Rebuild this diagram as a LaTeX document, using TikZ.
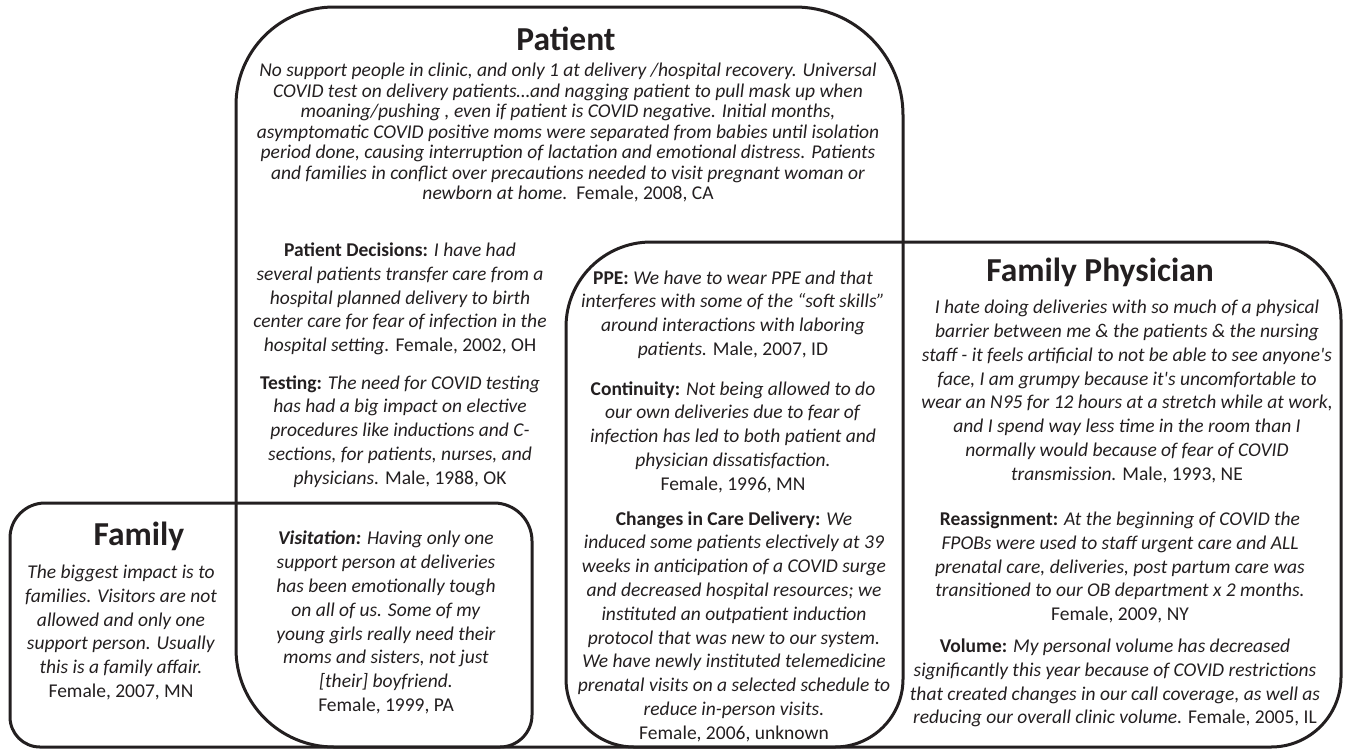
\documentclass[tikz,border=0pt]{standalone}
\usepackage{fontspec}
\setmainfont{Carlito}
\definecolor{ink}{RGB}{35,31,32}
\newcommand{\vennbox}[8]{%
 \draw[boxline] ({#1},{#2+#5}) .. controls ({#1},{#2+0.448*#5}) and ({#1+0.448*#5},{#2}) .. ({#1+#5},{#2})
 -- ({#3-#6},{#2}) .. controls ({#3-0.448*#6},{#2}) and ({#3},{#2+0.448*#6}) .. ({#3},{#2+#6})
 -- ({#3},{#4-#7}) .. controls ({#3},{#4-0.448*#7}) and ({#3-0.448*#7},{#4}) .. ({#3-#7},{#4})
 -- ({#1+#8},{#4}) .. controls ({#1+0.448*#8},{#4}) and ({#1},{#4-0.448*#8}) .. ({#1},{#4-#8}) -- cycle;}
\tikzset{
 boxline/.style={line width=3pt, draw=ink, line join=round},
 ttl/.style={font=\fontsize{33.5}{40}\selectfont\bfseries, text=ink, inner sep=0pt, anchor=base},
 body/.style={font=\fontsize{19.5}{23.8}\selectfont, text=ink, align=center, inner sep=0pt},
 pbody/.style={font=\fontsize{19.5}{20.5}\selectfont, text=ink, align=center, inner sep=0pt},
}
\begin{document}
\begin{tikzpicture}[x=1pt,y=-1pt]
\useasboundingbox (0,0) rectangle (1346,750);
% Patient
\vennbox{236}{7}{903}{747}{98}{108}{68}{98}
% Family
\vennbox{10}{503}{532}{747}{35}{38}{32}{30}
% Family Physician
\vennbox{566}{242}{1341}{747}{85}{78}{70}{68}

\node[ttl] (tpat) at (566,50) {Patient};
\node[ttl] (tfam) at (139,545) {Family};
\node[ttl] (tfp) at (1100,281) {Family Physician};

\node[pbody] (ppara) at (568,132.5) {\textit{No support people in clinic, and only 1 at delivery /hospital recovery. Universal}\\
\textit{COVID test on delivery patients…and nagging patient to pull mask up when}\\
\textit{moaning/pushing , even if patient is COVID negative. Initial months,}\\
\textit{asymptomatic COVID positive moms were separated from babies until isolation}\\
\textit{period done, causing interruption of lactation and emotional distress. Patients}\\
\textit{and families in conflict over precautions needed to visit pregnant woman or}\\
\textit{newborn at home.}\ \ Female, 2008, CA};

\node[body] (pdec) at (400,299) {\textbf{Patient Decisions:} \textit{I have had}\\
\textit{several patients transfer care from a}\\
\textit{hospital planned delivery to birth}\\
\textit{center care for fear of infection in the}\\
\textit{hospital setting.} Female, 2002, OH};

\node[body] (ptest) at (400,431.5) {\textbf{Testing:} \textit{The need for COVID testing}\\
\textit{has had a big impact on elective}\\
\textit{procedures like inductions and C-}\\
\textit{sections, for patients, nurses, and}\\
\textit{physicians.} Male, 1988, OK};

\node[body] (ftext) at (121,632.5) {\textit{The biggest impact is to}\\
\textit{families. Visitors are not}\\
\textit{allowed and only one}\\
\textit{support person. Usually}\\
\textit{this is a family affair.}\\
Female, 2007, MN};

\node[body] (visit) at (386,622.5) {\textbf{\textit{Visitation:}} \textit{Having only one}\\
\textit{support person at deliveries}\\
\textit{has been emotionally tough}\\
\textit{on all of us. Some of my}\\
\textit{young girls really need their}\\
\textit{moms and sisters, not just}\\
\textit{[their] boyfriend.}\\
Female, 1999, PA};

\node[body] (ppe) at (733,314.5) {\textbf{PPE:} \textit{We have to wear PPE and that}\\
\textit{interferes with some of the “soft skills”}\\
\textit{around interactions with laboring}\\
\textit{patients.} Male, 2007, ID};

\node[body] (cont) at (733,437) {\textbf{Continuity:} \textit{Not being allowed to do}\\
\textit{our own deliveries due to fear of}\\
\textit{infection has led to both patient and}\\
\textit{physician dissatisfaction.}\\
Female, 1996, MN};

\node[body] (chg) at (734,626.5) {\textbf{Changes in Care Delivery:} \textit{We}\\
\textit{induced some patients electively at 39}\\
\textit{weeks in anticipation of a COVID surge}\\
\textit{and decreased hospital resources; we}\\
\textit{instituted an outpatient induction}\\
\textit{protocol that was new to our system.}\\
\textit{We have newly instituted telemedicine}\\
\textit{prenatal visits on a selected schedule to}\\
\textit{reduce in-person visits.}\\
Female, 2006, unknown};

\node[body] (fppara) at (1127,391.5) {\textit{I hate doing deliveries with so much of a physical}\\
\textit{barrier between me \& the patients \& the nursing}\\
\textit{staff - it feels artificial to not be able to see anyone\textquotesingle s}\\
\textit{face, I am grumpy because it\textquotesingle s uncomfortable to}\\
\textit{wear an N95 for 12 hours at a stretch while at work,}\\
\textit{and I spend way less time in the room than I}\\
\textit{normally would because of fear of COVID}\\
\textit{transmission.} Male, 1993, NE};

\node[body] (reas) at (1120,567.5) {\textbf{Reassignment:} \textit{At the beginning of COVID the}\\
\textit{FPOBs were used to staff urgent care and ALL}\\
\textit{prenatal care, deliveries, post partum care was}\\
\textit{transitioned to our OB department x 2 months.}\\
Female, 2009, NY};

\node[body] (vol) at (1115,683) {\textbf{Volume:} \textit{My personal volume has decreased}\\
\textit{significantly this year because of COVID restrictions}\\
\textit{that created changes in our call coverage, as well as}\\
\textit{reducing our overall clinic volume.} Female, 2005, IL};
\end{tikzpicture}
\end{document}
